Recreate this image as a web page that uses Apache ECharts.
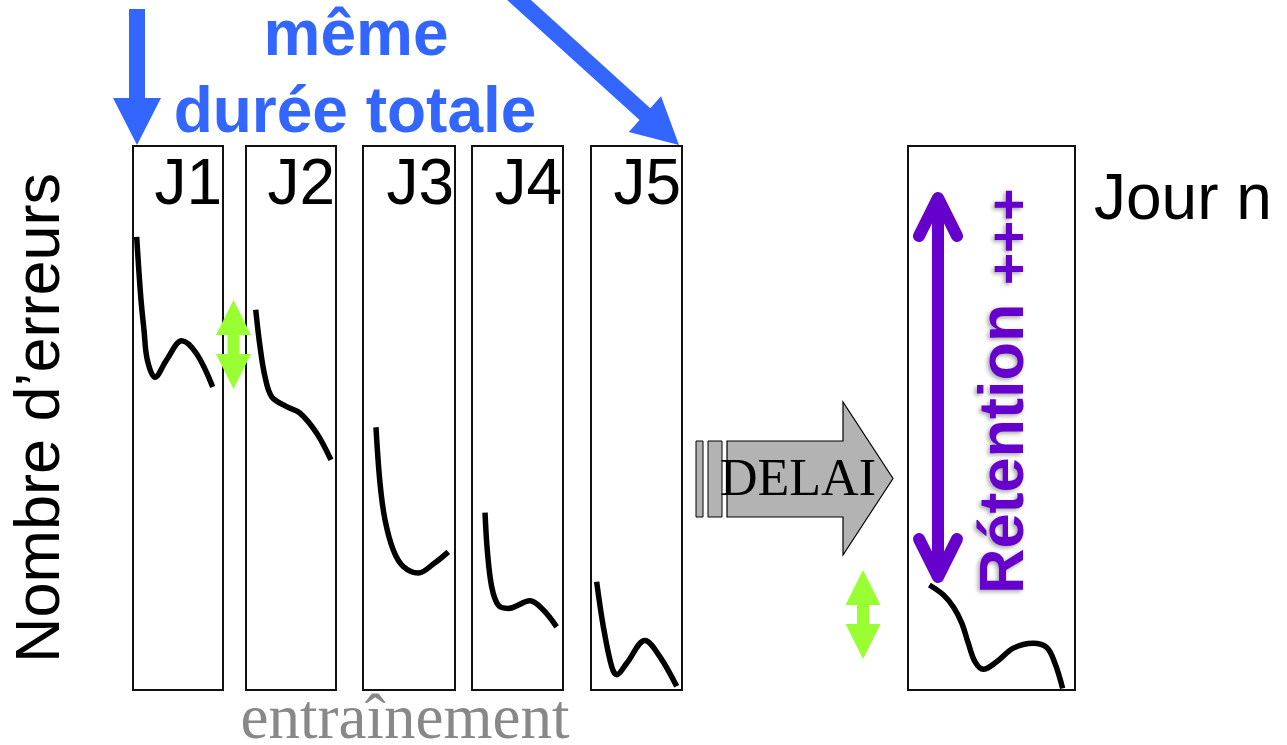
<!DOCTYPE html>
<html>
<head>
<meta charset="utf-8">
<script src="https://cdn.jsdelivr.net/npm/echarts@6/dist/echarts.min.js"></script>
<style>
html,body{margin:0;padding:0;background:#fff;}
#chart{width:1287px;height:745px;}
</style>
</head>
<body>
<div id="chart"></div>
<script>
// ---------- DATA ----------
const panelNames = ['J1', 'J2', 'J3', 'J4', 'J5', 'Jour n'];
// each point: [time within session (0-10), number of errors (0-100)]
const errorsJ1 = [[0.41,83.3],[0.86,72.3],[1.22,66.2],[1.59,60.7],[2.44,57.5],[3.74,60.7],[5.41,64.2],[7.07,61.8],[8.86,55.7]];
const errorsJ2 = [[1.08,69.9],[1.56,63.1],[2.11,57.6],[2.86,53.9],[4.52,52.1],[6.0,50.9],[7.86,47.2],[9.44,42.3]];
const errorsJ3 = [[1.41,48.3],[1.85,38.0],[2.39,31.3],[3.30,25.7],[4.38,22.7],[6.01,21.5],[7.75,23.3],[9.27,25.4]];
const errorsJ4 = [[1.43,32.6],[1.68,25.7],[2.16,19.0],[2.89,15.6],[3.99,15.0],[6.37,16.4],[7.84,14.7],[9.30,11.6]];
const errorsJ5 = [[0.62,19.9],[1.36,11.6],[2.27,4.3],[2.82,2.8],[3.92,4.9],[5.93,9.1],[7.58,6.1],[9.41,0.7]];
const errorsJourN = [[1.28,19.3],[2.11,17.5],[2.71,15.3],[3.22,12.3],[3.61,8.6],[4.01,5.2],[4.51,3.8],[5.31,5.2],[6.31,7.7],[7.50,8.6],[8.31,7.8],[8.80,4.9],[9.26,0.3]];
const seriesData = [errorsJ1, errorsJ2, errorsJ3, errorsJ4, errorsJ5, errorsJourN];
const yTitle = 'Nombre d\u2019erreurs';
const xTitle = 'entra\u00eenement';
const topLine1 = 'm\u00eame';
const topLine2 = 'dur\u00e9e totale';
const delayLabel = 'DELAI';
const retentionLabel = 'R\u00e9tention';
const retentionPlus = '+++';

// ---------- LAYOUT ----------
const panelBoxes = [
  {left:133, width:90}, {left:246, width:90}, {left:363, width:92},
  {left:472, width:91}, {left:591, width:91}, {left:908, width:167}
];
const boxTop = 146, boxHeight = 544;
const SANS = '"Liberation Sans", Arial, Helvetica, sans-serif';
const SERIF = '"Liberation Serif", "Times New Roman", serif';
const BLUE = '#3366FF', GREEN = '#99FF33', PURPLE = '#6600CC';

const chart = echarts.init(document.getElementById('chart'), null, {renderer:'canvas'});

const grids = panelBoxes.map(b => ({
  left: b.left, top: boxTop, width: b.width, height: boxHeight,
  show: true, borderColor: '#111', borderWidth: 2, backgroundColor: 'transparent'
}));
const xAxes = panelBoxes.map((b, i) => ({type:'value', gridIndex:i, min:0, max:10, show:false}));
const yAxes = panelBoxes.map((b, i) => ({type:'value', gridIndex:i, min:0, max:100, show:false}));
const series = seriesData.map((d, i) => ({
  type:'line', name: panelNames[i], xAxisIndex:i, yAxisIndex:i, data:d,
  smooth:0.35, showSymbol:false, silent:true, clip:false,
  lineStyle:{color:'#000', width:5.5, cap:'butt', join:'round'}
}));

function txt(text, x, y, font, fill, align, extra) {
  return Object.assign({
    type:'text', x:x, y:y, z:100,
    style:{text:text, font:font, fill:fill, align:align, textAlign:align,
           verticalAlign:'middle', textVerticalAlign:'middle'}
  }, extra || {});
}

const graphics = [];
// panel labels
panelNames.forEach((n, i) => {
  const b = panelBoxes[i];
  if (i < 5) graphics.push(txt(n, b.left + b.width - 1, 186, '64px ' + SANS, '#000', 'right'));
  else graphics.push(txt(n, 1094, 201, '64px ' + SANS, '#000', 'left'));
});
// axis titles
graphics.push(txt(yTitle, 42, boxTop + boxHeight/2, '63px ' + SANS, '#000', 'center', {rotation: Math.PI/2}));
graphics.push(txt(xTitle, 405, 721, '63px ' + SERIF, '#888888', 'center'));
// top blue text
graphics.push(txt(topLine1, 356, 37, 'bold 64px ' + SANS, BLUE, 'center'));
graphics.push(txt(topLine2, 355, 114, 'bold 64px ' + SANS, BLUE, 'center'));

// blue vertical arrow
graphics.push({type:'polygon', z:90, shape:{points:[[129,9],[145,9],[145,98],[161,98],[137,145],[113,98],[129,98]]}, style:{fill:BLUE}});
// blue diagonal arrow
(function(){
  const T=[679,145], dx=160, dy=145, L=Math.hypot(dx,dy), u=[dx/L, dy/L], n=[-u[1], u[0]];
  const B=[T[0]-46*u[0], T[1]-46*u[1]], S=[T[0]-240*u[0], T[1]-240*u[1]];
  const p=(P,k)=>[P[0]+k*n[0], P[1]+k*n[1]];
  graphics.push({type:'polygon', z:90, shape:{points:[p(S,8),p(B,8),p(B,24),T,p(B,-24),p(B,-8),p(S,-8)]}, style:{fill:BLUE}});
})();

// green double arrows
function greenArrow(cx, top, bottom) {
  const hw = 17.5, sw = 6, hl = 35;
  return {type:'polygon', z:100, shape:{points:[
    [cx, top],[cx+hw, top+hl],[cx+sw, top+hl],[cx+sw, bottom-hl],[cx+hw, bottom-hl],
    [cx, bottom],[cx-hw, bottom-hl],[cx-sw, bottom-hl],[cx-sw, top+hl],[cx-hw, top+hl]]},
    style:{fill:GREEN}};
}
graphics.push(greenArrow(233.5, 300, 389));
graphics.push(greenArrow(863, 570, 659));

// DELAI arrow
graphics.push({type:'rect', z:80, shape:{x:696, y:441, width:7, height:76}, style:{fill:'#B3B3B3', stroke:'#000', lineWidth:1}});
graphics.push({type:'rect', z:80, shape:{x:708, y:441, width:14, height:76}, style:{fill:'#B3B3B3', stroke:'#000', lineWidth:1}});
graphics.push({type:'polygon', z:80, shape:{points:[[727,441],[843,441],[843,402],[893,478.5],[843,555],[843,517],[727,517]]}, style:{fill:'#B3B3B3', stroke:'#000', lineWidth:1.2}});
graphics.push(txt(delayLabel, 798, 481, '52px ' + SERIF, '#000', 'center'));

// purple double arrow
const pStyle = {stroke:PURPLE, lineWidth:12, lineCap:'round', lineJoin:'round', fill:null};
graphics.push({type:'polyline', z:100, shape:{points:[[938,200],[938,576]]}, style:pStyle});
graphics.push({type:'polyline', z:100, shape:{points:[[919,236],[938,198],[957,236]]}, style:pStyle});
graphics.push({type:'polyline', z:100, shape:{points:[[919,539],[938,577],[957,539]]}, style:pStyle});
// retention text
const shadow = {textShadowColor:'rgba(0,0,0,0.35)', textShadowBlur:4, textShadowOffsetX:-2, textShadowOffsetY:2};
const rt = txt(retentionLabel, 1006, 594, 'bold 63px ' + SANS, PURPLE, 'left', {rotation: Math.PI/2});
Object.assign(rt.style, shadow);
graphics.push(rt);
const rp = txt(retentionPlus, 1012, 285, 'bold 55px ' + SANS, PURPLE, 'left', {rotation: Math.PI/2});
Object.assign(rp.style, shadow);
graphics.push(rp);

chart.setOption({
  animation:false,
  backgroundColor:'#fff',
  grid: grids,
  xAxis: xAxes,
  yAxis: yAxes,
  series: series,
  graphic: {elements: graphics}
});
</script>
</body>
</html>
